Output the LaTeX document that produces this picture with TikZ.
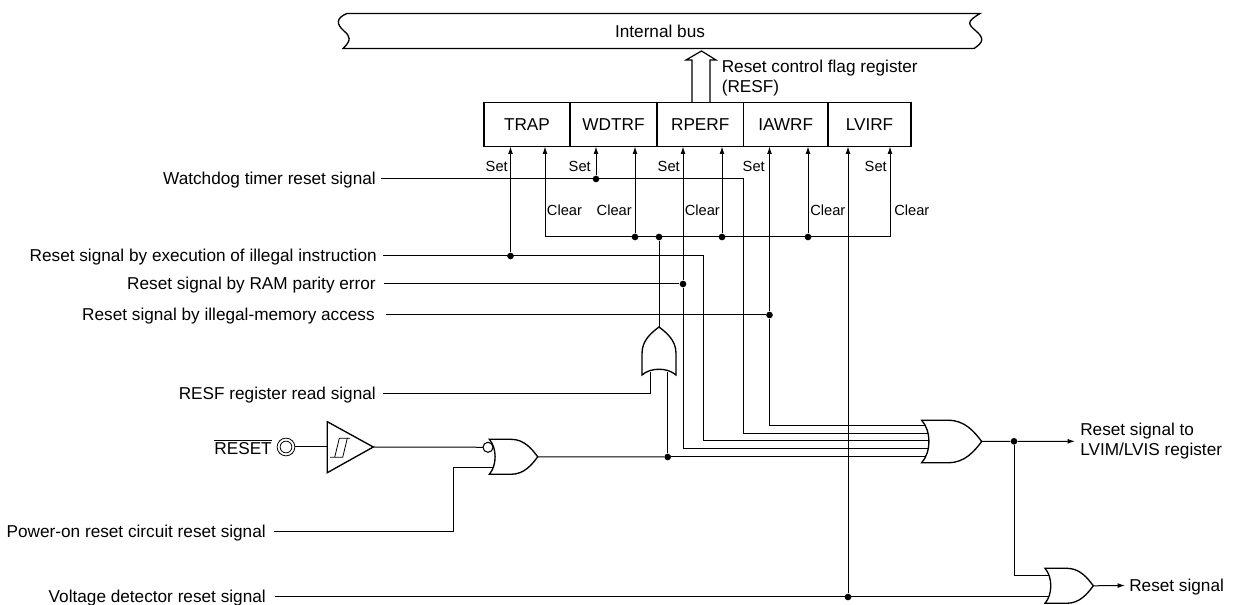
\documentclass[tikz,border=0pt]{standalone}
\usepackage{fontspec}
\setmainfont{Liberation Sans}
\usetikzlibrary{calc,positioning,arrows.meta}
\tikzset{
   wire/.style={line width=0.75pt},
   reg/.style={rectangle, draw=black, line width=1pt, minimum height=33pt, inner sep=0pt, outer sep=0pt, font=\mainsize},
   signal/.style={anchor=east, inner sep=0pt, inner xsep=#1, text height=10.4pt, text depth=2pt, font=\mainsize},
   tag/.style={inner sep=0pt, text height=8pt, text depth=0pt, font=\smallsize},
   branch/.style={fill, shape=circle, minimum size=5pt, inner sep=0pt},
   or gate/.pic={
     \draw[line width=1pt, fill=white] (0,1) -- (0.45,1) .. controls (0.72,1) and (0.88,0.45) .. (1,0)
       .. controls (0.88,-0.45) and (0.72,-1) .. (0.45,-1) -- (0,-1)
       .. controls (0.16,-0.5) and (0.16,0.5) .. (0,1) -- cycle;
     \coordinate (-tip) at (1,0);
   },
   >={Latex[length=5.5pt,width=3.6pt]}
}
\newcommand{\mainsize}{\fontsize{12.9pt}{15pt}\selectfont}
\newcommand{\smallsize}{\fontsize{11pt}{13pt}\selectfont}

\begin{document}
\begin{tikzpicture}[x=0.75pt,y=-0.75pt]
  \useasboundingbox (0,0) rectangle (1233,605);

  %%%%%%%%%%% bus and register

  \draw[line width=1pt] (347,13.5) -- (980,13.5) .. controls (966,22) and (968,24) .. (976,31)
    .. controls (984,38) and (984,42) .. (974,48.5) -- (343,48.5) .. controls (352,40) and (350,36) .. (344,31)
    .. controls (336,24) and (336,18) .. (347,13.5);
  \node[inner sep=0pt,font=\mainsize] at (660,31) (bus) {Internal bus};

  \node[reg, minimum width=64.5pt]  at (527,124.5)    (trap)  {TRAP};
  \node[reg, minimum width=65.25pt] at (613.5,124.5)  (wdtrf) {WDTRF};
  \node[reg, minimum width=64.9pt]  at (700.25,124.5) (rperf) {RPERF};
  \node[reg, minimum width=63.4pt]  at (785.75,124.5) (iawrf) {IAWRF};
  \node[reg, minimum width=62.25pt] at (869.5,124.5)  (lvirf) {LVIRF};

  \draw[line width=0.9pt] (692,102.5) -- (692,60) -- (686,60) -- (701.5,51) -- (716,60) -- (710,60) -- (710,102.5);
  \node[anchor=north west,inner sep=0pt,align=left,font=\mainsize] at (721.5,60) (resf) {Reset control flag register\\(RESF)};

  %%%%%%%%%%% signal names

  \node[signal=3.75pt] at (381,179)   (watchdog)  {Watchdog timer reset signal};
  \node[signal=4.5pt]  at (383,256)   (illegal)   {Reset signal by execution of illegal instruction};
  \node[signal=6pt]    at (384,284)   (parity)    {Reset signal by RAM parity error};
  \node[signal=8.25pt] at (386,315)   (memory)    {Reset signal by illegal-memory access};
  \node[signal=5.25pt] at (383,393.5) (read)      {RESF register read signal};
  \node[signal=6pt]    at (274,532)   (power)     {Power-on reset circuit reset signal};
  \node[signal=6.75pt] at (275,597)   (voltage)   {Voltage detector reset signal};

  \node[circle,draw=black,line width=0.6pt,minimum size=13.3pt,inner sep=0pt] at (286,447) (pin) {};
  \node[circle,draw=black,line width=0.6pt,minimum size=8.8pt,inner sep=0pt] at (286,447) (pin inner) {};
  \node[anchor=east,inner sep=0pt,font=\mainsize] at (272,447) (reset) {$\overline{\mbox{RESET}}$};

  %%%%%%%%%%% ends of the arrows and bends

  \coordinate (trap set)   at (510.5,146.5);
  \coordinate (trap clear) at (545,146.5);
  \coordinate (wdt set)    at (596,146.5);
  \coordinate (wdt clear)  at (635,146.5);
  \coordinate (rpe set)    at (683,146.5);
  \coordinate (rpe clear)  at (722,146.5);
  \coordinate (iaw set)    at (769.5,146.5);
  \coordinate (iaw clear)  at (808,146.5);
  \coordinate (lvi set)    at (848,146.5);
  \coordinate (lvi clear)  at (890,146.5);

  \coordinate (in one)   at (930,425.7);
  \coordinate (in two)   at (930,433.3);
  \coordinate (in three) at (930,440.8);
  \coordinate (in four)  at (930,448.7);
  \coordinate (in five)  at (930,457);

  \coordinate (turn two)   at (743.5,433.3);
  \coordinate (turn three) at (703.5,440.8);
  \coordinate (turn four)  at (683,448.7);
  \coordinate (turn one)   at (769.5,425.7);

  \coordinate (clear left)  at (545,237);
  \coordinate (clear right) at (890,237);

  \node[branch] at (596,179)    (dot watchdog) {};
  \node[branch] at (510.5,256)  (dot illegal)  {};
  \node[branch] at (683,284)    (dot parity)   {};
  \node[branch] at (769.5,315)  (dot memory)   {};
  \node[branch] at (848,597)    (dot voltage)  {};
  \node[branch] at (635,237)    (dot wdt)      {};
  \node[branch] at (659,237)    (dot read)     {};
  \node[branch] at (722,237)    (dot rpe)      {};
  \node[branch] at (808,237)    (dot iaw)      {};
  \node[branch] at (667.7,457)  (dot nor)      {};
  \node[branch] at (1014,441.3) (dot out)      {};

  \coordinate (read left)  at (650,372);
  \coordinate (read right) at (667.7,372);
  \coordinate (nor in)     at (495,447.3);
  \coordinate (nor low)    at (495,468);
  \coordinate (nor turn)   at (453.7,468);
  \coordinate (last high)  at (1050,575.3);
  \coordinate (last low)   at (1050,597);
  \coordinate (out end)    at (1075,441.3);
  \coordinate (last end)   at (1125,585.5);

  \coordinate (buf in)  at (327.3,447);
  \coordinate (buf out) at (373.3,447);

  %%%%%%%%%%% wires

  \begin{scope}[wire]
  \draw[->] (dot illegal) -- (trap set);
  \draw[->] (dot watchdog) -- (wdt set);
  \draw[->] (dot parity) -- (rpe set);
  \draw[->] (dot memory) -- (iaw set);
  \draw[->] (dot voltage) -- (lvi set);

  \draw[->] (clear left) -- (trap clear);
  \draw[->] (clear right) -- (lvi clear);
  \draw[->] (dot wdt) -- (wdt clear);
  \draw[->] (dot rpe) -- (rpe clear);
  \draw[->] (dot iaw) -- (iaw clear);
  \draw (clear left) -- (clear right);

  \draw (watchdog.east) -| (turn two) -- (in two);
  \draw (illegal.east) -| (turn three) -- (in three);
  \draw (parity.east) -- (dot parity) -- (turn four) -- (in four);
  \draw (memory.east) -- (dot memory) -- (turn one) -- (in one);
  \draw (dot nor) -- (in five);
  \draw (voltage.east) -- (last low);
  \draw (read.east) -| (read left);
  \draw (power.east) -| (nor turn) -- (nor low);
  \draw (pin) -- (buf in);
  \draw (buf out) -- (nor in);
  \draw (dot nor) -- (read right);
  \draw (dot out) |- (last high);
  \end{scope}

  %%%%%%%%%%% gates

  \draw[line width=1pt, fill=white] (327.3,421.7) -- (373.3,447) -- (327.3,472.7) -- cycle;
  \draw[line width=0.6pt] (330,457.3) -- (342.7,457.3) -- (347.3,438.3) -- (350,438.3);
  \draw[line width=0.6pt] (334.7,457.3) -- (339.3,438.3) -- (347.3,438.3);

  \pic[xscale=48.4,yscale=17.5] (nor gate) at (489.3,456.8) {or gate};
  \node[circle,draw=black,fill=white,line width=0.8pt,minimum size=7.5pt,inner sep=0pt] at (488,447.3) (bubble) {};
  \pic[rotate=90,xscale=48,yscale=17] (read or) at (659,375) {or gate};
  \pic[xscale=60,yscale=21.2] (big or) at (921.7,441.5) {or gate};
  \pic[xscale=48.3,yscale=17.5] (last or) at (1045,585.8) {or gate};

  \draw[wire] (nor gate-tip) -- (dot nor);
  \draw[wire] (dot read) -- (read or-tip);
  \draw[wire,->] (big or-tip) -- (dot out) -- (out end);
  \draw[wire,->] (last or-tip) -- (last end);

  %%%%%%%%%%% labels

  \node[anchor=north west,inner sep=0pt,align=left,font=\mainsize] at (1080,423) (to lvim) {Reset signal to\\LVIM/LVIS register};
  \node[anchor=west,inner sep=0pt,font=\mainsize] at (1129,587) (reset out) {Reset signal};

  \node[tag,anchor=east] at (508,166) (set a) {Set};
  \node[tag,anchor=east] at (591,166) (set b) {Set};
  \node[tag,anchor=east] at (680,166) (set c) {Set};
  \node[tag,anchor=east] at (765,166) (set d) {Set};
  \node[tag,anchor=east] at (887,166) (set e) {Set};

  \node[tag,anchor=west] at (546.7,210) (clear a) {Clear};
  \node[tag,anchor=east] at (632,210)   (clear b) {Clear};
  \node[tag,anchor=west] at (684.5,210) (clear c) {Clear};
  \node[tag,anchor=west] at (810,210)   (clear d) {Clear};
  \node[tag,anchor=west] at (894,210)   (clear e) {Clear};

\end{tikzpicture}
\end{document}
